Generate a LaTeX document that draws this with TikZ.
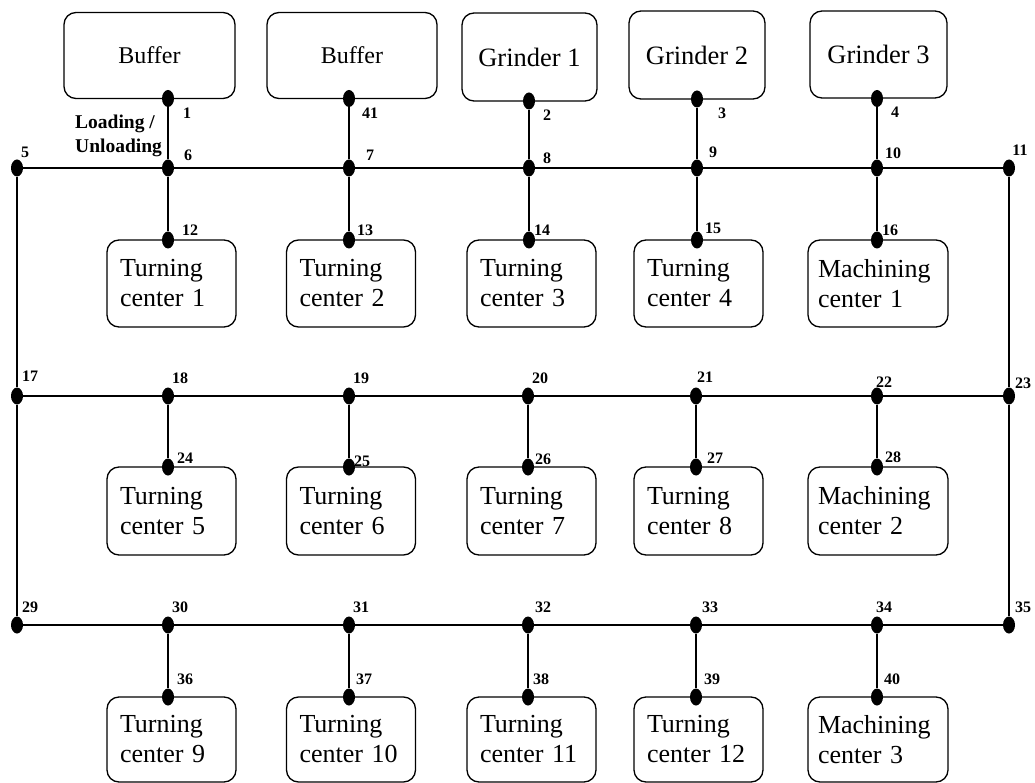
\documentclass[tikz,border=0pt]{standalone}
\usepackage{fontspec}
\setmainfont{Liberation Serif}
\usetikzlibrary{shapes.geometric}
% a dot plus its number label
\newcommand\station[5]{%
  \node[dot] (#1) at (#2,#3) {};
  \node[num] (l#1) at (#5) {#4};}
\begin{document}
\begin{tikzpicture}[x=1pt,y=-1pt,
  dot/.style={ellipse, fill=black, draw=none, inner sep=0pt, minimum width=12pt, minimum height=17pt},
  num/.style={font=\bfseries\fontsize{16}{16}\selectfont, inner sep=0pt},
  box/.style={draw, line width=1.3pt, rounded corners=12pt, inner sep=0pt},
  topbox/.style={box, font=\fontsize{26.5}{30}\selectfont},
  bufbox/.style={box, font=\fontsize{24}{28}\selectfont},
  tcbox/.style={box, font=\fontsize{26}{30}\selectfont, align=left, inner xsep=13pt, text width=103pt},
  mcbox/.style={box, font=\fontsize{26}{30}\selectfont, align=left, inner xsep=10pt, text width=120pt},
  rail/.style={line width=1.4pt},
  stub/.style={line width=2pt},
]
\useasboundingbox (0,0) rectangle (1035,783);

% top row: buffers and grinders
\node[bufbox, minimum width=171pt, minimum height=86pt] (buf1) at (149.5,55.5) {Buffer};
\node[bufbox, minimum width=170pt, minimum height=86pt] (buf2) at (352,55.5) {Buffer};
\node[topbox, minimum width=135pt, minimum height=88pt] (gr1) at (529.5,57) {Grinder 1};
\node[topbox, minimum width=136pt, minimum height=88pt] (gr2) at (697,55) {Grinder 2};
\node[topbox, minimum width=137pt, minimum height=87pt] (gr3) at (878.5,54.5) {Grinder 3};

% machine rows
\node[tcbox, minimum height=87pt] (tc1) at (171.5,283.5) {Turning\\center 1};
\node[tcbox, minimum height=87pt] (tc2) at (351,283.5) {Turning\\center 2};
\node[tcbox, minimum height=87pt] (tc3) at (531.5,283.5) {Turning\\center 3};
\node[tcbox, minimum height=87pt] (tc4) at (698.5,283.5) {Turning\\center 4};
\node[mcbox, minimum height=87pt] (mc1) at (878,283.5) {Machining\\center 1};

\node[tcbox, minimum height=88pt] (tc5) at (171.5,511) {Turning\\center 5};
\node[tcbox, minimum height=88pt] (tc6) at (351,511) {Turning\\center 6};
\node[tcbox, minimum height=88pt] (tc7) at (531.5,511) {Turning\\center 7};
\node[tcbox, minimum height=88pt] (tc8) at (698.5,511) {Turning\\center 8};
\node[mcbox, minimum height=88pt] (mc2) at (878,511) {Machining\\center 2};

\node[tcbox, minimum height=85pt] (tc9) at (171.5,739.5) {Turning\\center 9};
\node[tcbox, minimum height=85pt] (tc10) at (351,739.5) {Turning\\center 10};
\node[tcbox, minimum height=85pt] (tc11) at (531.5,739.5) {Turning\\center 11};
\node[tcbox, minimum height=85pt] (tc12) at (698.5,739.5) {Turning\\center 12};
\node[mcbox, minimum height=85pt] (mc3) at (878,739.5) {Machining\\center 3};

% dots and their numbers
\station{d1}{168}{98.5}{1}{187,113}
\station{d41}{349}{98.5}{41}{370,113}
\station{d2}{529}{101}{2}{547,115}
\station{d3}{697}{99}{3}{722,113}
\station{d4}{877}{98.5}{4}{895,112}

\station{d5}{17}{168}{5}{25,152}
\station{d6}{168}{168}{6}{188,155}
\station{d7}{349}{168}{7}{370,155}
\station{d8}{529}{168}{8}{547,158}
\station{d9}{697}{168}{9}{713,152}
\station{d10}{877}{168}{10}{893,153}
\station{d11}{1009}{168}{11}{1020,150}

\station{d12}{168}{240}{12}{190,230}
\station{d13}{349}{240}{13}{365,230}
\station{d14}{529}{240}{14}{542,230}
\station{d15}{697}{240}{15}{713,228}
\station{d16}{877}{240}{16}{890,230}

\station{d17}{17}{396}{17}{30,376}
\station{d18}{168}{396}{18}{180,378}
\station{d19}{349}{396}{19}{361,378}
\station{d20}{528}{396}{20}{540,378}
\station{d21}{696}{396}{21}{705,377}
\station{d22}{877}{396}{22}{884,382}
\station{d23}{1009}{396}{23}{1023,383}

\station{d24}{168}{467}{24}{185,458}
\station{d25}{349}{467}{25}{362,461}
\station{d26}{528}{467}{26}{543,459}
\station{d27}{696}{467}{27}{715,458}
\station{d28}{877}{467}{28}{893,457}

\station{d29}{17}{625}{29}{30,607}
\station{d30}{168}{625}{30}{180,607}
\station{d31}{349}{625}{31}{361,607}
\station{d32}{528}{625}{32}{543,607}
\station{d33}{696}{625}{33}{710,607}
\station{d34}{877}{625}{34}{884,607}
\station{d35}{1009}{625}{35}{1023,607}

\station{d36}{168}{697}{36}{185,679}
\station{d37}{349}{697}{37}{364,679}
\station{d38}{528}{697}{38}{541,679}
\station{d39}{696}{697}{39}{712,679}
\station{d40}{877}{697}{40}{892,679}

\node[font=\bfseries\fontsize{19.5}{24}\selectfont, align=left, anchor=west, inner sep=0pt] (lu) at (75,136) {Loading /\\Unloading};

% main rails
\draw[rail] (d5) -- (d6) -- (d7) -- (d8) -- (d9) -- (d10) -- (d11);
\draw[rail] (d17) -- (d18) -- (d19) -- (d20) -- (d21) -- (d22) -- (d23);
\draw[rail] (d29) -- (d30) -- (d31) -- (d32) -- (d33) -- (d34) -- (d35);
\draw[rail] (d5) -- (d17) -- (d29);
\draw[rail] (d11) -- (d23) -- (d35);

% spurs to the machines
\foreach \a/\b/\c in {d1/d6/d12, d41/d7/d13, d2/d8/d14, d3/d9/d15, d4/d10/d16}
  \draw[stub] (\a) -- (\b) -- (\c);
\foreach \a/\b in {d18/d24, d19/d25, d20/d26, d21/d27, d22/d28,
                   d30/d36, d31/d37, d32/d38, d33/d39, d34/d40}
  \draw[stub] (\a) -- (\b);
\end{tikzpicture}
\end{document}
